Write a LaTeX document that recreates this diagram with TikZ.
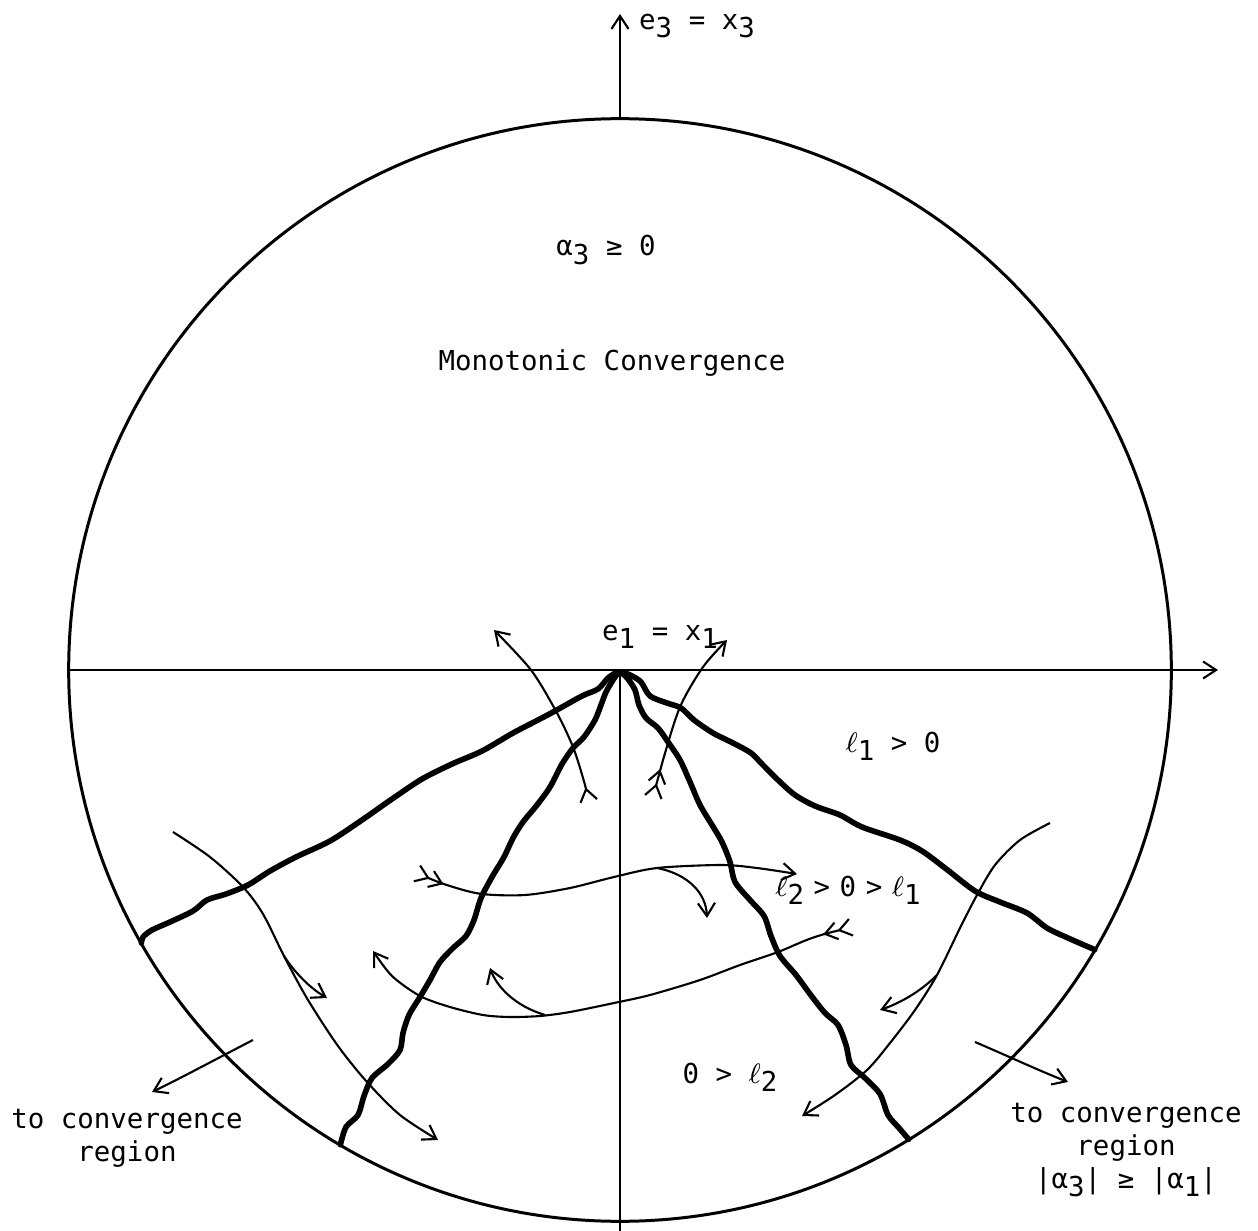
\documentclass[tikz,border=0pt]{standalone}
\usepackage{fontspec}
\setmonofont{DejaVu Sans Mono}
\usetikzlibrary{arrows.meta}
\newcommand{\lowsub}[1]{\raisebox{-0.55ex}{#1}}
\begin{document}
\begin{tikzpicture}[x=0.01cm, y=-0.01cm,
        font=\ttfamily\fontsize{7.8}{9.4}\selectfont,
        barb/.tip={Straight Barb[length=1.3mm,width=1.7mm]},
        fthr/.tip={Straight Barb[reversed,length=1.2mm,width=1.7mm]},
        axis/.style={line width=0.6pt},
        rim/.style={line width=0.85pt},
        ridge/.style={line width=1.6pt, line cap=round, line join=round},
        flow/.style={line width=0.6pt},
        lbl/.style={inner sep=0pt, align=center}]
        \useasboundingbox (0,0) rectangle (1258,1231);
        \coordinate (O) at (620,670);
        \coordinate (xbeg) at (69,670);
        \coordinate (xend) at (1218,670);
        \coordinate (ybeg) at (620,1231);
        \coordinate (yend) at (620,14);
        \path (O) ++(-90:551) coordinate (ctop)
              (O) ++(150.3:551) coordinate (w1)
              (O) ++(120.5:551) coordinate (w2)
              (O) ++(58.4:551) coordinate (w3)
              (O) ++(30.5:551) coordinate (w4);
        \draw[rim] (O) circle[radius=5.51cm];
        \draw[axis, -{barb}] (xbeg) -- (xend);
        \draw[axis] (ybeg) -- (O);
        \draw[axis, -{barb}] (ctop) -- (yend);
        \node[lbl] (e3) at (697,26) {e\lowsub{3} = x\lowsub{3}};
        \node[lbl] (a3) at (606,250) {α\lowsub{3} ≥ 0};
        \node[lbl] (mono) at (612,363) {Monotonic Convergence};
        \node[lbl] (e1) at (660,637) {e\lowsub{1} = x\lowsub{1}};
        \node[lbl] (l1) at (893,746) {$\ell$\lowsub{1} > 0};
        \node[lbl] (l21) at (848,890) {$\ell$\lowsub{2}\hspace{.35em}>\hspace{.35em}0\hspace{.35em}>\hspace{.35em}$\ell$\lowsub{1}};
        \node[lbl] (l2) at (730,1077) {0 > $\ell$\lowsub{2}};
        \node[lbl] (convl) at (127,1138) {to convergence\\region};
        \node[lbl] (convr) at (1126,1150) {to convergence\\region\\|α\lowsub{3}| ≥ |α\lowsub{1}|};
        \draw[ridge] plot[smooth, tension=0.5] coordinates {(617,672) (608,678) (598,689) (582,696)
            (555,711) (538,720) (513,733) (482,751) (452,764) (422,779) (392,799) (362,820)
            (330,841) (296,857) (270,871) (248,885) (226,894) (207,900) (193,911) (170,922)
            (152,930) (143,937) (w1)};
        \draw[ridge] plot[smooth, tension=0.5] coordinates {(618,673) (613,680) (606,692) (601,705)
            (595,720) (584,737) (573,748) (562,764) (550,787) (537,805) (523,822) (513,838)
            (504,857) (492,877) (481,898) (474,920) (466,936) (453,948) (440,962) (430,980)
            (420,997) (409,1015) (403,1033) (400,1050) (388,1064) (372,1078) (364,1096)
            (358,1115) (346,1127) (w2)};
        \draw[ridge] plot[smooth, tension=0.5] coordinates {(622,673) (628,679) (635,690) (639,705)
            (646,718) (658,728) (668,742) (680,760) (690,782) (700,805) (712,825) (722,842)
            (730,862) (735,882) (750,900) (764,916) (771,936) (780,956) (796,975) (810,994)
            (825,1013) (838,1025) (846,1045) (851,1065) (865,1078) (880,1094) (888,1115)
            (899,1128) (w3)};
        \draw[ridge] plot[smooth, tension=0.5] coordinates {(623,672) (632,676) (641,682) (650,696)
            (667,703) (681,708) (694,720) (713,733) (733,743) (751,753) (762,764) (778,780)
            (795,795) (815,806) (840,815) (862,827) (900,840) (922,851) (945,868) (975,891)
            (1000,902) (1027,913) (1047,928) (1068,938) (w4)};
        \draw[flow, {fthr[]}-{barb[]}] plot[smooth] coordinates {(589,802) (583,778) (573,747) (557,713)
            (531,670) (494,630)};
        \draw[flow, {fthr[]fthr[]}-{barb[]}] plot[smooth] coordinates {(653,798) (663,760) (680,707)
            (703,667) (727,640)};
        \draw[flow, {fthr[]fthr[]}-{barb[]}] plot[smooth] coordinates {(416,873) (450,886) (482,894)
            (525,895) (570,888) (614,877) (657,868) (721,865) (757,868) (797,874)};
        \draw[flow, -{barb[]}] (657,868) .. controls (688,874) and (706,893) .. (707,918);
        \draw[flow, {fthr[]fthr[]}-{barb[]}] plot[smooth] coordinates {(852,927) (812,938) (778,952)
            (740,965) (700,980) (650,995) (614,1003) (570,1012) (540,1016) (510,1017) (483,1015)
            (450,1007) (420,996) (392,976) (373,951)};
        \draw[flow, -{barb[]}] (545,1015) .. controls (515,1006) and (497,987) .. (490,968);
        \draw[flow, -{barb[]}] plot[smooth] coordinates {(173,832) (210,857) (243,887) (263,914)
            (285,958) (308,1000) (338,1046) (367,1082) (400,1115) (438,1140)};
        \draw[flow, -{barb[]}] (284,956) .. controls (295,973) and (310,988) .. (327,998);
        \draw[flow, -{barb[]}] (253,1040) .. controls (218,1058) and (185,1076) .. (152,1092);
        \draw[flow, -{barb[]}] plot[smooth] coordinates {(1050,823) (1020,840) (995,865) (977,895)
            (960,928) (937,975) (915,1010) (890,1043) (867,1070) (835,1095) (802,1116)};
        \draw[flow, -{barb[]}] (937,975) .. controls (920,992) and (900,1003) .. (880,1010);
        \draw[flow, -{barb[]}] (975,1042) .. controls (1010,1057) and (1040,1071) .. (1068,1082);
\end{tikzpicture}
\end{document}
